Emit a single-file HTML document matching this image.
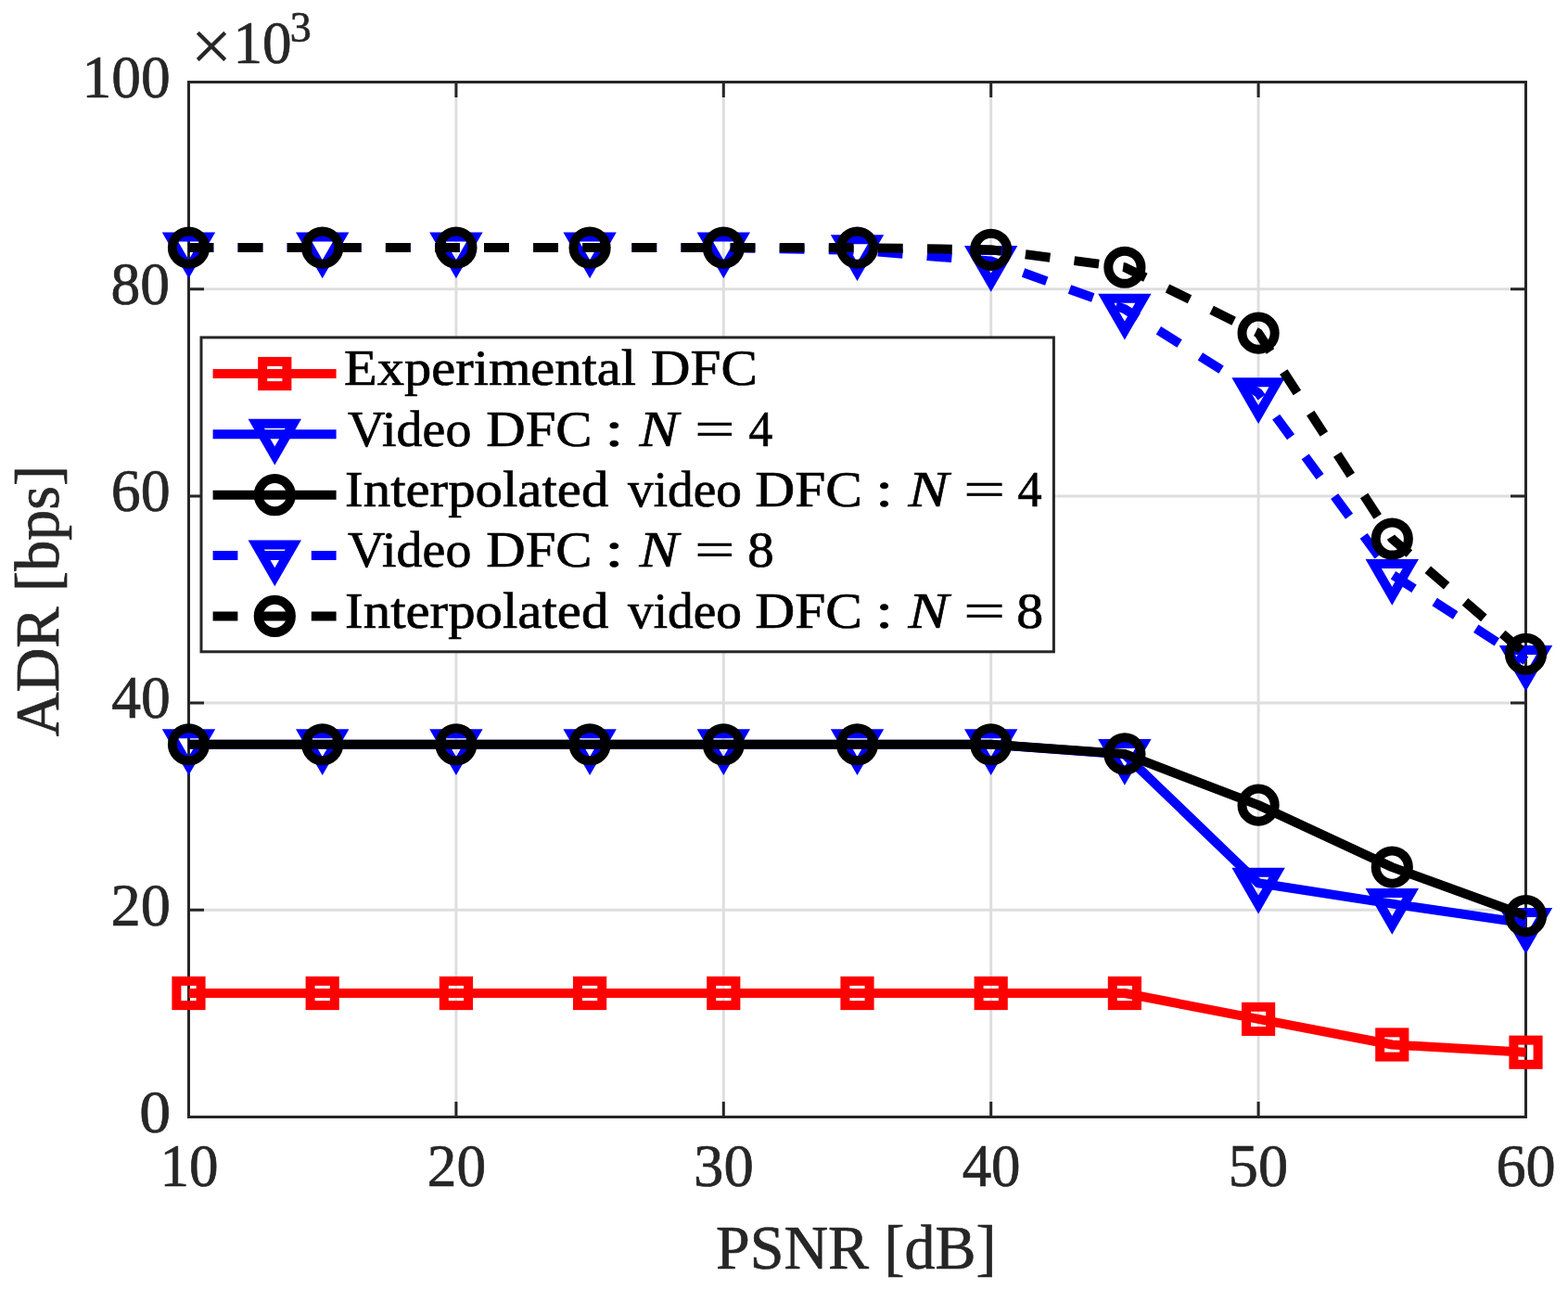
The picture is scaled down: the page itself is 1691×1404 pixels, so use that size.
<!DOCTYPE html>
<html><head><meta charset="utf-8"><title>ADR vs PSNR</title>
<style>
html,body{margin:0;padding:0;background:#fff;}
body{width:1691px;height:1404px;overflow:hidden;}
svg{display:block;}
text{font-family:"Liberation Serif","DejaVu Serif",serif;white-space:pre;}
</style></head><body>
<svg width="1691" height="1404" viewBox="0 0 1691 1404">
<rect x="0" y="0" width="1691" height="1404" fill="#fff"/>

<path d="M491.90 88.5V1204.5 M780.30 88.5V1204.5 M1068.70 88.5V1204.5 M1357.10 88.5V1204.5 M203.5 981.30H1645.5 M203.5 758.10H1645.5 M203.5 534.90H1645.5 M203.5 311.70H1645.5" stroke="#dedede" stroke-width="3" fill="none"/>
<path d="M203.50 1204.5V1188.0 M203.50 88.5V105.0 M491.90 1204.5V1188.0 M491.90 88.5V105.0 M780.30 1204.5V1188.0 M780.30 88.5V105.0 M1068.70 1204.5V1188.0 M1068.70 88.5V105.0 M1357.10 1204.5V1188.0 M1357.10 88.5V105.0 M1645.50 1204.5V1188.0 M1645.50 88.5V105.0 M203.5 1204.50H220.0 M1645.5 1204.50H1629.0 M203.5 981.30H220.0 M1645.5 981.30H1629.0 M203.5 758.10H220.0 M1645.5 758.10H1629.0 M203.5 534.90H220.0 M1645.5 534.90H1629.0 M203.5 311.70H220.0 M1645.5 311.70H1629.0 M203.5 88.50H220.0 M1645.5 88.50H1629.0" stroke="#262626" stroke-width="3" fill="none"/>
<rect x="203.5" y="88.5" width="1442.0" height="1116.0" fill="none" stroke="#262626" stroke-width="3"/>
<polyline points="203.50,1071.03 347.70,1071.03 491.90,1071.03 636.10,1071.03 780.30,1071.03 924.50,1071.03 1068.70,1071.03 1212.90,1071.03 1357.10,1098.93 1501.30,1126.49 1645.50,1134.75" fill="none" stroke="#ff0000" stroke-width="10" stroke-linejoin="round"/>
<rect x="190.40" y="1057.93" width="26.20" height="26.20" fill="none" stroke="#ff0000" stroke-width="10"/>
<rect x="334.60" y="1057.93" width="26.20" height="26.20" fill="none" stroke="#ff0000" stroke-width="10"/>
<rect x="478.80" y="1057.93" width="26.20" height="26.20" fill="none" stroke="#ff0000" stroke-width="10"/>
<rect x="623.00" y="1057.93" width="26.20" height="26.20" fill="none" stroke="#ff0000" stroke-width="10"/>
<rect x="767.20" y="1057.93" width="26.20" height="26.20" fill="none" stroke="#ff0000" stroke-width="10"/>
<rect x="911.40" y="1057.93" width="26.20" height="26.20" fill="none" stroke="#ff0000" stroke-width="10"/>
<rect x="1055.60" y="1057.93" width="26.20" height="26.20" fill="none" stroke="#ff0000" stroke-width="10"/>
<rect x="1199.80" y="1057.93" width="26.20" height="26.20" fill="none" stroke="#ff0000" stroke-width="10"/>
<rect x="1344.00" y="1085.83" width="26.20" height="26.20" fill="none" stroke="#ff0000" stroke-width="10"/>
<rect x="1488.20" y="1113.39" width="26.20" height="26.20" fill="none" stroke="#ff0000" stroke-width="10"/>
<rect x="1632.40" y="1121.65" width="26.20" height="26.20" fill="none" stroke="#ff0000" stroke-width="10"/>
<polyline points="203.50,802.74 347.70,802.74 491.90,802.74 636.10,802.74 780.30,802.74 924.50,802.74 1068.70,802.74 1212.90,813.57 1357.10,952.28 1501.30,974.60 1645.50,995.58" fill="none" stroke="#0000ff" stroke-width="10" stroke-linejoin="round"/>
<polygon points="183.46,791.17 223.54,791.17 203.50,825.88" fill="none" stroke="#0000ff" stroke-width="10" stroke-miterlimit="10"/>
<polygon points="327.66,791.17 367.74,791.17 347.70,825.88" fill="none" stroke="#0000ff" stroke-width="10" stroke-miterlimit="10"/>
<polygon points="471.86,791.17 511.94,791.17 491.90,825.88" fill="none" stroke="#0000ff" stroke-width="10" stroke-miterlimit="10"/>
<polygon points="616.06,791.17 656.14,791.17 636.10,825.88" fill="none" stroke="#0000ff" stroke-width="10" stroke-miterlimit="10"/>
<polygon points="760.26,791.17 800.34,791.17 780.30,825.88" fill="none" stroke="#0000ff" stroke-width="10" stroke-miterlimit="10"/>
<polygon points="904.46,791.17 944.54,791.17 924.50,825.88" fill="none" stroke="#0000ff" stroke-width="10" stroke-miterlimit="10"/>
<polygon points="1048.66,791.17 1088.74,791.17 1068.70,825.88" fill="none" stroke="#0000ff" stroke-width="10" stroke-miterlimit="10"/>
<polygon points="1192.86,802.00 1232.94,802.00 1212.90,836.71" fill="none" stroke="#0000ff" stroke-width="10" stroke-miterlimit="10"/>
<polygon points="1337.06,940.71 1377.14,940.71 1357.10,975.42" fill="none" stroke="#0000ff" stroke-width="10" stroke-miterlimit="10"/>
<polygon points="1481.26,963.03 1521.34,963.03 1501.30,997.74" fill="none" stroke="#0000ff" stroke-width="10" stroke-miterlimit="10"/>
<polygon points="1625.46,984.01 1665.54,984.01 1645.50,1018.72" fill="none" stroke="#0000ff" stroke-width="10" stroke-miterlimit="10"/>
<polyline points="203.50,802.74 347.70,802.74 491.90,802.74 636.10,802.74 780.30,802.74 924.50,802.74 1068.70,802.74 1212.90,812.90 1357.10,868.14 1501.30,935.10 1645.50,987.55" fill="none" stroke="#000000" stroke-width="10" stroke-linejoin="round"/>
<circle cx="203.50" cy="802.74" r="17.6" fill="none" stroke="#000000" stroke-width="10"/>
<circle cx="347.70" cy="802.74" r="17.6" fill="none" stroke="#000000" stroke-width="10"/>
<circle cx="491.90" cy="802.74" r="17.6" fill="none" stroke="#000000" stroke-width="10"/>
<circle cx="636.10" cy="802.74" r="17.6" fill="none" stroke="#000000" stroke-width="10"/>
<circle cx="780.30" cy="802.74" r="17.6" fill="none" stroke="#000000" stroke-width="10"/>
<circle cx="924.50" cy="802.74" r="17.6" fill="none" stroke="#000000" stroke-width="10"/>
<circle cx="1068.70" cy="802.74" r="17.6" fill="none" stroke="#000000" stroke-width="10"/>
<circle cx="1212.90" cy="812.90" r="17.6" fill="none" stroke="#000000" stroke-width="10"/>
<circle cx="1357.10" cy="868.14" r="17.6" fill="none" stroke="#000000" stroke-width="10"/>
<circle cx="1501.30" cy="935.10" r="17.6" fill="none" stroke="#000000" stroke-width="10"/>
<circle cx="1645.50" cy="987.55" r="17.6" fill="none" stroke="#000000" stroke-width="10"/>
<polyline points="203.50,267.06 347.70,267.06 491.90,267.06 636.10,267.06 780.30,267.06 924.50,269.74 1068.70,281.57 1212.90,333.24 1357.10,423.75 1501.30,619.49 1645.50,712.46" fill="none" stroke="#0000ff" stroke-width="10" stroke-linejoin="round" stroke-dasharray="26.8 26.3"/>
<polygon points="183.46,255.49 223.54,255.49 203.50,290.20" fill="none" stroke="#0000ff" stroke-width="10" stroke-miterlimit="10"/>
<polygon points="327.66,255.49 367.74,255.49 347.70,290.20" fill="none" stroke="#0000ff" stroke-width="10" stroke-miterlimit="10"/>
<polygon points="471.86,255.49 511.94,255.49 491.90,290.20" fill="none" stroke="#0000ff" stroke-width="10" stroke-miterlimit="10"/>
<polygon points="616.06,255.49 656.14,255.49 636.10,290.20" fill="none" stroke="#0000ff" stroke-width="10" stroke-miterlimit="10"/>
<polygon points="760.26,255.49 800.34,255.49 780.30,290.20" fill="none" stroke="#0000ff" stroke-width="10" stroke-miterlimit="10"/>
<polygon points="904.46,258.17 944.54,258.17 924.50,292.88" fill="none" stroke="#0000ff" stroke-width="10" stroke-miterlimit="10"/>
<polygon points="1048.66,270.00 1088.74,270.00 1068.70,304.71" fill="none" stroke="#0000ff" stroke-width="10" stroke-miterlimit="10"/>
<polygon points="1192.86,321.67 1232.94,321.67 1212.90,356.38" fill="none" stroke="#0000ff" stroke-width="10" stroke-miterlimit="10"/>
<polygon points="1337.06,412.18 1377.14,412.18 1357.10,446.89" fill="none" stroke="#0000ff" stroke-width="10" stroke-miterlimit="10"/>
<polygon points="1481.26,607.92 1521.34,607.92 1501.30,642.63" fill="none" stroke="#0000ff" stroke-width="10" stroke-miterlimit="10"/>
<polygon points="1625.46,700.89 1665.54,700.89 1645.50,735.60" fill="none" stroke="#0000ff" stroke-width="10" stroke-miterlimit="10"/>
<polyline points="203.50,267.06 347.70,267.06 491.90,267.06 636.10,267.06 780.30,267.06 924.50,267.06 1068.70,269.29 1212.90,288.26 1357.10,359.13 1501.30,580.99 1645.50,705.31" fill="none" stroke="#000000" stroke-width="10" stroke-linejoin="round" stroke-dasharray="26.8 26.3"/>
<circle cx="203.50" cy="267.06" r="17.6" fill="none" stroke="#000000" stroke-width="10"/>
<circle cx="347.70" cy="267.06" r="17.6" fill="none" stroke="#000000" stroke-width="10"/>
<circle cx="491.90" cy="267.06" r="17.6" fill="none" stroke="#000000" stroke-width="10"/>
<circle cx="636.10" cy="267.06" r="17.6" fill="none" stroke="#000000" stroke-width="10"/>
<circle cx="780.30" cy="267.06" r="17.6" fill="none" stroke="#000000" stroke-width="10"/>
<circle cx="924.50" cy="267.06" r="17.6" fill="none" stroke="#000000" stroke-width="10"/>
<circle cx="1068.70" cy="269.29" r="17.6" fill="none" stroke="#000000" stroke-width="10"/>
<circle cx="1212.90" cy="288.26" r="17.6" fill="none" stroke="#000000" stroke-width="10"/>
<circle cx="1357.10" cy="359.13" r="17.6" fill="none" stroke="#000000" stroke-width="10"/>
<circle cx="1501.30" cy="580.99" r="17.6" fill="none" stroke="#000000" stroke-width="10"/>
<circle cx="1645.50" cy="705.31" r="17.6" fill="none" stroke="#000000" stroke-width="10"/>
<text x="88.40" y="104.59" font-size="66" fill="#262626" stroke="#262626" stroke-width="0.7" textLength="95.24" lengthAdjust="spacingAndGlyphs">100</text>
<text x="119.56" y="327.66" font-size="66" fill="#262626" stroke="#262626" stroke-width="0.7" textLength="63.59" lengthAdjust="spacingAndGlyphs">80</text>
<text x="119.84" y="551.22" font-size="66" fill="#262626" stroke="#262626" stroke-width="0.7" textLength="63.91" lengthAdjust="spacingAndGlyphs">60</text>
<text x="120.13" y="774.07" font-size="66" fill="#262626" stroke="#262626" stroke-width="0.7" textLength="63.62" lengthAdjust="spacingAndGlyphs">40</text>
<text x="119.50" y="997.57" font-size="66" fill="#262626" stroke="#262626" stroke-width="0.7" textLength="64.48" lengthAdjust="spacingAndGlyphs">20</text>
<text x="150.19" y="1221.12" font-size="66" fill="#262626" stroke="#262626" stroke-width="0.7" textLength="33.93" lengthAdjust="spacingAndGlyphs">0</text>
<text x="172.44" y="1279.37" font-size="66" fill="#262626" stroke="#262626" stroke-width="0.7" textLength="63.09" lengthAdjust="spacingAndGlyphs">10</text>
<text x="460.85" y="1279.37" font-size="66" fill="#262626" stroke="#262626" stroke-width="0.7" textLength="63.28" lengthAdjust="spacingAndGlyphs">20</text>
<text x="748.09" y="1279.37" font-size="66" fill="#262626" stroke="#262626" stroke-width="0.7" textLength="64.70" lengthAdjust="spacingAndGlyphs">30</text>
<text x="1037.64" y="1279.37" font-size="66" fill="#262626" stroke="#262626" stroke-width="0.7" textLength="62.98" lengthAdjust="spacingAndGlyphs">40</text>
<text x="1324.84" y="1279.37" font-size="66" fill="#262626" stroke="#262626" stroke-width="0.7" textLength="64.33" lengthAdjust="spacingAndGlyphs">50</text>
<text x="1613.43" y="1279.37" font-size="66" fill="#262626" stroke="#262626" stroke-width="0.7" textLength="64.24" lengthAdjust="spacingAndGlyphs">60</text>
<text x="205.70" y="76.28" font-size="78" fill="#262626" stroke="#262626" stroke-width="0.2" textLength="44.42" lengthAdjust="spacingAndGlyphs">×</text>
<text x="251.44" y="67.56" font-size="66" fill="#262626" stroke="#262626" stroke-width="0.7" textLength="63.09" lengthAdjust="spacingAndGlyphs">10</text>
<text x="312.83" y="44.95" font-size="46" fill="#262626" stroke="#262626" stroke-width="0.7" textLength="23.01" lengthAdjust="spacingAndGlyphs">3</text>
<text x="772.12" y="1367.90" font-size="67.5" fill="#262626" stroke="#262626" stroke-width="0.7" textLength="302.41" lengthAdjust="spacingAndGlyphs">PSNR [dB]</text>
<text transform="rotate(-90)" x="-794.26" y="62.80" font-size="67.5" fill="#262626" stroke="#262626" stroke-width="0.7" textLength="292.41" lengthAdjust="spacingAndGlyphs">ADR [bps]</text>
<rect x="217" y="363.9" width="919.4000000000001" height="338.9" fill="#fff" stroke="#262626" stroke-width="3"/>
<line x1="229.6" y1="403.00" x2="362.6" y2="403.00" stroke="#ff0000" stroke-width="10"/>
<rect x="283.20" y="389.90" width="26.20" height="26.20" fill="none" stroke="#ff0000" stroke-width="10"/>
<line x1="229.6" y1="468.35" x2="362.6" y2="468.35" stroke="#0000ff" stroke-width="10"/>
<polygon points="276.26,456.78 316.34,456.78 296.30,491.49" fill="none" stroke="#0000ff" stroke-width="10" stroke-miterlimit="10"/>
<line x1="229.6" y1="533.70" x2="362.6" y2="533.70" stroke="#000000" stroke-width="10"/>
<circle cx="296.30" cy="533.70" r="17.6" fill="none" stroke="#000000" stroke-width="10"/>
<line x1="229.6" y1="599.05" x2="362.6" y2="599.05" stroke="#0000ff" stroke-width="10" stroke-dasharray="26.8 26.3"/>
<polygon points="276.26,587.48 316.34,587.48 296.30,622.19" fill="none" stroke="#0000ff" stroke-width="10" stroke-miterlimit="10"/>
<line x1="229.6" y1="664.40" x2="362.6" y2="664.40" stroke="#000000" stroke-width="10" stroke-dasharray="26.8 26.3"/>
<circle cx="296.30" cy="664.40" r="17.6" fill="none" stroke="#000000" stroke-width="10"/>
<text x="371.05" y="415.40" font-size="55.4" fill="#000" stroke="#000" stroke-width="0.7" textLength="314.93" lengthAdjust="spacingAndGlyphs">Experimental</text>
<text x="701.72" y="415.40" font-size="55.4" fill="#000" stroke="#000" stroke-width="0.7" textLength="115.15" lengthAdjust="spacingAndGlyphs">DFC</text>
<text x="375.04" y="480.75" font-size="55.4" fill="#000" stroke="#000" stroke-width="0.7" textLength="133.33" lengthAdjust="spacingAndGlyphs">Video</text>
<text x="524.24" y="480.75" font-size="55.4" fill="#000" stroke="#000" stroke-width="0.7" textLength="114.32" lengthAdjust="spacingAndGlyphs">DFC</text>
<text x="652.02" y="480.75" font-size="55.4" fill="#000" stroke="#000" stroke-width="0.7" textLength="20.78" lengthAdjust="spacingAndGlyphs">:</text>
<text x="689.62" y="480.75" font-size="55.4" font-style="italic" fill="#000" stroke="#000" stroke-width="0.7" textLength="42.06" lengthAdjust="spacingAndGlyphs">N</text>
<text x="749.28" y="480.75" font-size="55.4" fill="#000" stroke="#000" stroke-width="0.7" textLength="43.06" lengthAdjust="spacingAndGlyphs">=</text>
<text x="807.47" y="480.75" font-size="55.4" fill="#000" stroke="#000" stroke-width="0.7" textLength="25.70" lengthAdjust="spacingAndGlyphs">4</text>
<text x="372.14" y="546.10" font-size="55.4" fill="#000" stroke="#000" stroke-width="0.7" textLength="284.21" lengthAdjust="spacingAndGlyphs">Interpolated</text>
<text x="677.00" y="546.10" font-size="55.4" fill="#000" stroke="#000" stroke-width="0.7" textLength="123.01" lengthAdjust="spacingAndGlyphs">video</text>
<text x="814.31" y="546.10" font-size="55.4" fill="#000" stroke="#000" stroke-width="0.7" textLength="115.78" lengthAdjust="spacingAndGlyphs">DFC</text>
<text x="943.93" y="546.10" font-size="55.4" fill="#000" stroke="#000" stroke-width="0.7" textLength="19.33" lengthAdjust="spacingAndGlyphs">:</text>
<text x="979.63" y="546.10" font-size="55.4" font-style="italic" fill="#000" stroke="#000" stroke-width="0.7" textLength="43.45" lengthAdjust="spacingAndGlyphs">N</text>
<text x="1039.23" y="546.10" font-size="55.4" fill="#000" stroke="#000" stroke-width="0.7" textLength="44.75" lengthAdjust="spacingAndGlyphs">=</text>
<text x="1097.45" y="546.10" font-size="55.4" fill="#000" stroke="#000" stroke-width="0.7" textLength="26.13" lengthAdjust="spacingAndGlyphs">4</text>
<text x="375.04" y="611.45" font-size="55.4" fill="#000" stroke="#000" stroke-width="0.7" textLength="133.33" lengthAdjust="spacingAndGlyphs">Video</text>
<text x="524.24" y="611.45" font-size="55.4" fill="#000" stroke="#000" stroke-width="0.7" textLength="114.32" lengthAdjust="spacingAndGlyphs">DFC</text>
<text x="652.02" y="611.45" font-size="55.4" fill="#000" stroke="#000" stroke-width="0.7" textLength="20.78" lengthAdjust="spacingAndGlyphs">:</text>
<text x="689.62" y="611.45" font-size="55.4" font-style="italic" fill="#000" stroke="#000" stroke-width="0.7" textLength="42.06" lengthAdjust="spacingAndGlyphs">N</text>
<text x="749.28" y="611.45" font-size="55.4" fill="#000" stroke="#000" stroke-width="0.7" textLength="43.06" lengthAdjust="spacingAndGlyphs">=</text>
<text x="806.22" y="611.45" font-size="55.4" fill="#000" stroke="#000" stroke-width="0.7" textLength="28.45" lengthAdjust="spacingAndGlyphs">8</text>
<text x="372.14" y="676.80" font-size="55.4" fill="#000" stroke="#000" stroke-width="0.7" textLength="284.21" lengthAdjust="spacingAndGlyphs">Interpolated</text>
<text x="677.00" y="676.80" font-size="55.4" fill="#000" stroke="#000" stroke-width="0.7" textLength="123.01" lengthAdjust="spacingAndGlyphs">video</text>
<text x="814.31" y="676.80" font-size="55.4" fill="#000" stroke="#000" stroke-width="0.7" textLength="115.78" lengthAdjust="spacingAndGlyphs">DFC</text>
<text x="943.93" y="676.80" font-size="55.4" fill="#000" stroke="#000" stroke-width="0.7" textLength="19.33" lengthAdjust="spacingAndGlyphs">:</text>
<text x="979.63" y="676.80" font-size="55.4" font-style="italic" fill="#000" stroke="#000" stroke-width="0.7" textLength="43.45" lengthAdjust="spacingAndGlyphs">N</text>
<text x="1039.23" y="676.80" font-size="55.4" fill="#000" stroke="#000" stroke-width="0.7" textLength="44.75" lengthAdjust="spacingAndGlyphs">=</text>
<text x="1096.19" y="676.80" font-size="55.4" fill="#000" stroke="#000" stroke-width="0.7" textLength="28.93" lengthAdjust="spacingAndGlyphs">8</text>
</svg>
</body></html>
